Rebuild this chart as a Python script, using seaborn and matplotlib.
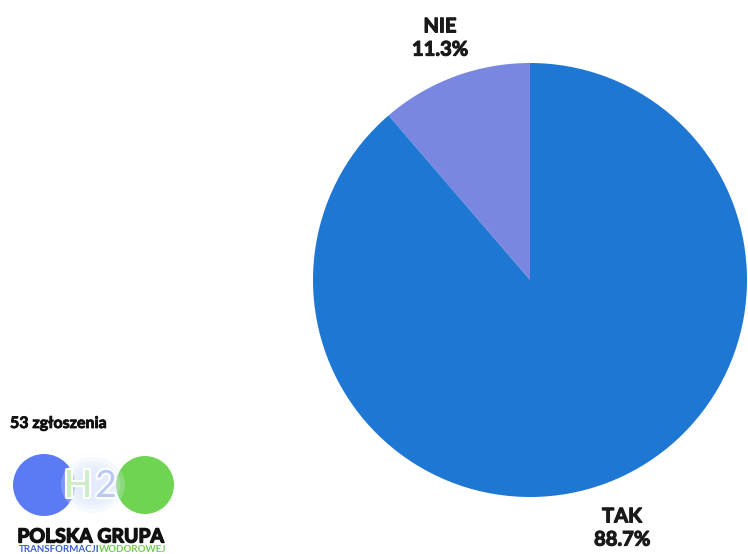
import matplotlib
matplotlib.use("Agg")
import matplotlib.pyplot as plt
import matplotlib.patheffects as pe
import seaborn as sns
from matplotlib.patches import Circle, Ellipse

# Survey answers (share of responses, %)
answers = ["NIE", "TAK"]
shares = [11.3, 88.7]
colors = ["#7A87E0", "#1E77D3"]
responses = 53

sns.set_theme(style="white")
plt.rcParams["font.family"] = ["Lato", "DejaVu Sans"]

W, H = 748, 554
fig = plt.figure(figsize=(W / 100, H / 100), dpi=100)
fig.patch.set_facecolor("white")

# pie placed in pixel space: centre (530, 280), radius 217
cx, cy, r = 530, 280, 217
ax = fig.add_axes([(cx - r) / W, (H - cy - r) / H, 2 * r / W, 2 * r / H])
wedges, _ = ax.pie(shares, colors=colors, startangle=90, counterclock=True,
                   radius=1.0, wedgeprops=dict(linewidth=0))
ax.set_aspect("auto")
ax.set_xlim(-1, 1)
ax.set_ylim(-1, 1)
ax.axis("off")

heavy = [pe.withStroke(linewidth=0.8, foreground="#1a1a1a")]
label_pos = {"NIE": (440, 38), "TAK": (622, 528)}
for name, share in zip(answers, shares):
    px, py = label_pos[name]
    ax.text((px - cx) / r, (cy - py) / r, f"{name}\n{share}%",
            ha="center", va="center", fontsize=14.5, fontweight="bold",
            color="#1a1a1a", linespacing=1.2, clip_on=False,
            path_effects=heavy)

# response count
fig.text(10 / W, 1 - 424 / H, f"{responses} zgłoszenia", fontsize=11.5,
         fontweight="bold", color="#111111", ha="left", va="center",
         path_effects=[pe.withStroke(linewidth=0.6, foreground="#111111")])

# logo
lax = fig.add_axes([0, 0, 1, 1])
lax.set_xlim(0, W)
lax.set_ylim(H, 0)
lax.axis("off")
lax.set_zorder(-1)
lax.add_patch(Circle((44, 485), 31, color="#5B7BF5", lw=0))
lax.add_patch(Circle((145, 485), 29, color="#6FD452", lw=0))
for i, a in enumerate([0.25, 0.3, 0.35, 0.45]):
    lax.add_patch(Ellipse((93, 485), 64 - i * 10, 56 - i * 8,
                          color="#dfe9fb", alpha=a, lw=0))
lax.text(78, 486, "H", fontsize=27, color="#cdeccb", ha="center",
         va="center", fontweight="normal",
         path_effects=[pe.Stroke(linewidth=3, foreground="white"), pe.Normal()])
lax.text(106, 486, "2", fontsize=27, color="#b9c9f5", ha="center",
         va="center", fontweight="normal",
         path_effects=[pe.Stroke(linewidth=3, foreground="white"), pe.Normal()])
lax.text(91, 537, "POLSKA GRUPA", fontsize=14, fontweight="bold",
         color="#111111", ha="center", va="center",
         path_effects=[pe.withStroke(linewidth=1.0, foreground="#111111")])
lax.text(19, 550, "TRANSFORMACJI", fontsize=7, fontweight="bold",
         color="#3B63C9", ha="left", va="center")
lax.text(99, 550, "WODOROWEJ", fontsize=7, fontweight="bold",
         color="#6FCF4E", ha="left", va="center")

fig.savefig("out.png", dpi=100, facecolor="white")
